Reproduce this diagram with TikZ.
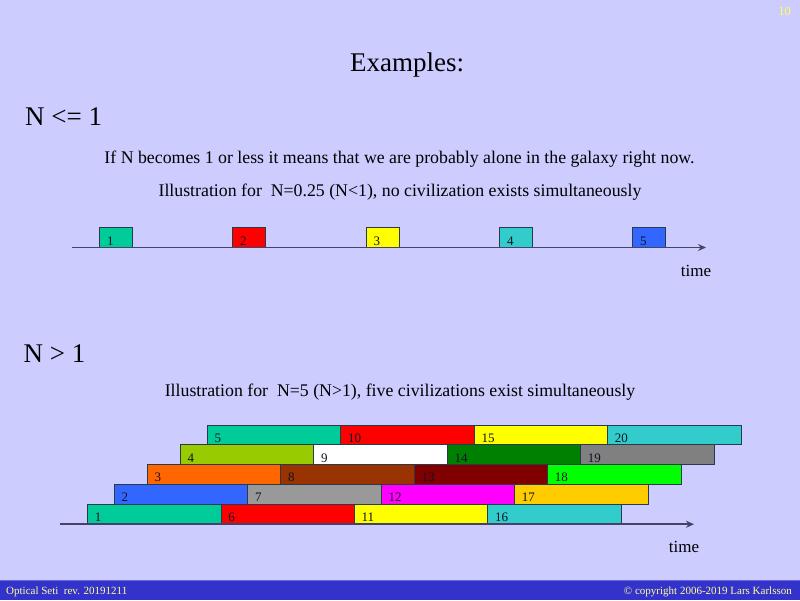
\documentclass[tikz,border=0pt]{standalone}
\usepackage{fontspec}
\setmainfont{Liberation Serif}
\usetikzlibrary{arrows.meta}
\definecolor{bg}{HTML}{CCCCFF}
\definecolor{footbar}{HTML}{3333CC}
\definecolor{footline}{HTML}{6666E0}
\definecolor{foottext}{HTML}{FFFF99}
\definecolor{pagenum}{HTML}{FFFF55}
\definecolor{axiscol}{HTML}{444466}
\definecolor{boxline}{HTML}{2A3A48}
\definecolor{labcol}{HTML}{111122}
\definecolor{cteal}{HTML}{00CC99}
\definecolor{cred}{HTML}{FF0000}
\definecolor{cyel}{HTML}{FFFF00}
\definecolor{ccyan}{HTML}{33CCCC}
\definecolor{cblue}{HTML}{3366FF}
\definecolor{cgray}{HTML}{999999}
\definecolor{cmag}{HTML}{FF00FF}
\definecolor{cgold}{HTML}{FFCC00}
\definecolor{corange}{HTML}{FF6600}
\definecolor{cbrown}{HTML}{993300}
\definecolor{cmaroon}{HTML}{800000}
\definecolor{clime}{HTML}{00FF00}
\definecolor{colive}{HTML}{99CC00}
\definecolor{cwhite}{HTML}{FFFFFF}
\definecolor{cgreen}{HTML}{008000}
\definecolor{cdgray}{HTML}{808080}
\tikzset{
  sbox/.style={draw=boxline, line width=0.9pt, anchor=north west, minimum height=19.8pt, inner sep=0pt, outer sep=0pt},
  slabel/.style={anchor=base west, inner sep=0pt, text=labcol, font=\fontsize{13}{13}\selectfont},
  axisline/.style={draw=axiscol, line width=1.6pt, -{Stealth[length=8pt,width=7pt]}},
  bigtxt/.style={anchor=base, inner sep=0pt, font=\fontsize{27}{30}\selectfont},
  bodytxt/.style={anchor=base, inner sep=0pt, font=\fontsize{17.8}{20}\selectfont},
  foot/.style={inner sep=0pt, text=foottext, font=\fontsize{11}{12}\selectfont}
}
\begin{document}
\begin{tikzpicture}[x=1pt,y=-1pt]
\fill[bg] (0,0) rectangle (800,600);
\useasboundingbox (0,0) rectangle (800,600);
% footer
\fill[footbar] (0,580) rectangle (800,600);
\draw[footline, line width=1pt] (0,580.5) -- (800,580.5);
\node[foot, anchor=base west] (fl) at (6,594) {Optical Seti\ \ rev. 20191211};
\node[foot, anchor=base east] (fr) at (792,594) {\textcopyright{} copyright 2006-2019 Lars Karlsson};
\node[anchor=base east, inner sep=0pt, text=pagenum, font=\fontsize{12.5}{12}\selectfont] (pg) at (791,15.5) {10};
% headings
\node[bigtxt] (title) at (407,71.7) {Examples:};
\node[bigtxt, anchor=base west] (h1) at (25,125) {N <= 1};
\node[bodytxt] (l1) at (399.5,163.3) {If N becomes 1 or less it means that we are probably alone in the galaxy right now.};
\node[bodytxt] (l2) at (400,196.7) {Illustration for\ \ N=0.25 (N<1), no civilization exists simultaneously};
\node[bigtxt, anchor=base west] (h2) at (23.5,362.3) {N > 1};
\node[bodytxt] (l3) at (400,396.7) {Illustration for\ \ N=5 (N>1), five civilizations exist simultaneously};
% timeline 1
\coordinate (t1s) at (72,247.5);
\coordinate (t1e) at (706,247.5);
\foreach \x/\c/\lab in {99.3/cteal/1, 232.5/cred/2, 366/cyel/3, 499.3/ccyan/4, 632.5/cblue/5} {
  \node[sbox, fill=\c, minimum width=33.4pt, minimum height=20pt] (b\lab) at (\x,227.5) {};
  \node[slabel] at ([xshift=7.5pt,yshift=2.5pt]b\lab.south west) {\lab};
}
\draw[axisline] (t1s) -- (t1e);
\node[bodytxt, font=\fontsize{17}{18}\selectfont] (time1) at (696,276) {time};
% timeline 2
\foreach \r/\x/\y/\ca/\cb/\cc/\cd in {
  5/207.5/425/cteal/cred/cyel/ccyan,
  4/180.5/444.8/colive/cwhite/cgreen/cdgray,
  3/147.5/464.6/corange/cbrown/cmaroon/clime,
  2/114.5/484.4/cblue/cgray/cmag/cgold,
  1/87.7/504.2/cteal/cred/cyel/ccyan} {
  \foreach \k/\c in {0/\ca,1/\cb,2/\cc,3/\cd} {
    \pgfmathtruncatemacro\lab{\r+5*\k}
    \pgfmathsetmacro\xx{\x+133.4*\k}
    \node[sbox, fill=\c, minimum width=133.4pt] (s\lab) at (\xx,\y) {};
    \node[slabel] at ([xshift=7pt,yshift=2.5pt]s\lab.south west) {\lab};
  }
}
\coordinate (t2s) at (60,524.2);
\coordinate (t2e) at (694,524.2);
\draw[axisline] (t2s) -- (t2e);
\node[bodytxt, font=\fontsize{17}{18}\selectfont] (time2) at (684,552) {time};
\end{tikzpicture}
\end{document}
